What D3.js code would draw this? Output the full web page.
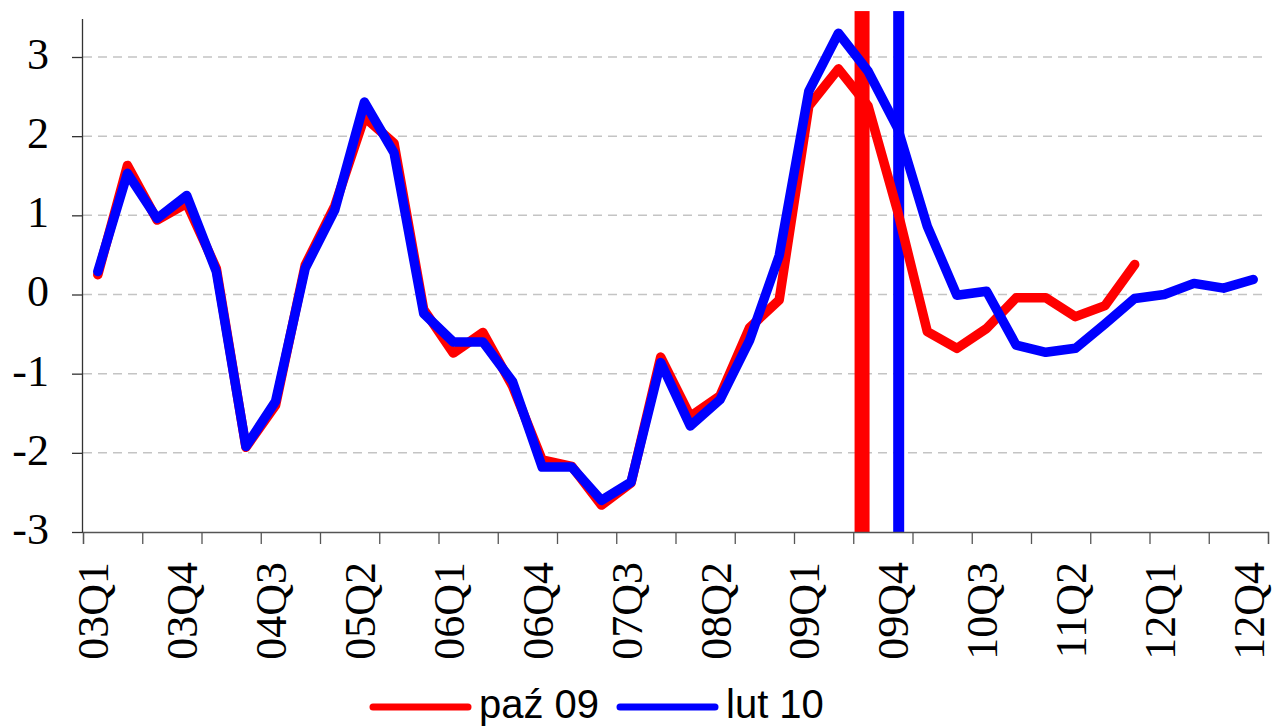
<!DOCTYPE html>
<html>
<head>
<meta charset="utf-8">
<script src="https://cdn.jsdelivr.net/npm/d3@7/dist/d3.min.js"></script>
<style>
  html, body { margin: 0; padding: 0; background: #fff; }
  svg { display: block; }
</style>
</head>
<body>
<svg id="chart" width="1272" height="726"></svg>
<script>
// quarters 03Q1 .. 12Q4
const years = ['03', '04', '05', '06', '07', '08', '09', '10', '11', '12'];
const quarters = ['Q1', 'Q2', 'Q3', 'Q4'];
const categories = years.flatMap(y => quarters.map(q => y + q));

const tickLabels = ['03Q1', '03Q4', '04Q3', '05Q2', '06Q1', '06Q4', '07Q3',
                    '08Q2', '09Q1', '09Q4', '10Q3', '11Q2', '12Q1', '12Q4'];
const yTicks = [-3, -2, -1, 0, 1, 2, 3];

// projection from Oct 2009 (ends 11Q4)
const paz09 = [0.25, 1.63, 0.94, 1.15, 0.33, -1.93, -1.40, 0.37, 1.12, 2.24,
               1.91, -0.19, -0.74, -0.48, -1.16, -2.09, -2.17, -2.66, -2.38, -0.79,
               -1.54, -1.28, -0.42, -0.07, 2.38, 2.85, 2.38, 1.05, -0.47, -0.68,
               -0.43, -0.04, -0.04, -0.28, -0.14, 0.38];
// projection from Feb 2010
const lut10 = [0.29, 1.53, 0.96, 1.25, 0.29, -1.92, -1.35, 0.33, 1.07, 2.43,
               1.79, -0.24, -0.60, -0.60, -1.10, -2.18, -2.18, -2.60, -2.37, -0.86,
               -1.66, -1.33, -0.58, 0.49, 2.57, 3.30, 2.82, 2.10, 0.86, -0.01,
               0.04, -0.64, -0.73, -0.68, -0.37, -0.05, 0.00, 0.14, 0.08, 0.19];

const seriesNames = ['paź 09', 'lut 10'];
const seriesColors = ['#ff0000', '#0000ff'];
// start of forecast for each projection
const markerQuarters = ['09Q3', '09Q4'];
const markerRange = [-3, 3.58];

const svg = d3.select('#chart');
const plotLeft = 83, plotRight = 1268, plotTop = 57, plotBottom = 532;

const x = d3.scaleBand().domain(categories).range([plotLeft, plotRight]).padding(0);
const xIdx = d3.scaleLinear().domain([0, categories.length]).range([plotLeft, plotRight]);
const y = d3.scaleLinear().domain([-3, 3]).range([plotBottom, plotTop]);
const cx = c => x(c) + x.bandwidth() / 2;

// gridlines
svg.append('g')
  .selectAll('line')
  .data(yTicks.filter(d => d > -3))
  .enter().append('line')
  .attr('x1', plotLeft).attr('x2', plotRight)
  .attr('y1', d => y(d)).attr('y2', d => y(d))
  .attr('stroke', '#c4c4c4')
  .attr('stroke-width', 1.5)
  .attr('stroke-dasharray', '9,6');

// forecast markers
const markerW = [15, 11], markerShift = [-6, 1];
svg.append('g')
  .selectAll('rect')
  .data(markerQuarters)
  .enter().append('rect')
  .attr('x', (d, i) => cx(d) + markerShift[i] - markerW[i] / 2)
  .attr('width', (d, i) => markerW[i])
  .attr('y', y(markerRange[1]))
  .attr('height', y(markerRange[0]) - y(markerRange[1]))
  .attr('fill', (d, i) => seriesColors[i]);

// y axis
const yAxis = svg.append('g')
  .attr('transform', `translate(${plotLeft},0)`)
  .call(d3.axisLeft(y).tickValues(yTicks).tickSize(11).tickPadding(23)
    .tickFormat(d => String(d)));
yAxis.select('.domain').attr('d', `M-0.5,${y(3.48)}V${plotBottom}`).attr('stroke', '#333').attr('stroke-width', 1.3);
yAxis.selectAll('.tick line').attr('stroke', '#333').attr('stroke-width', 1.3);
yAxis.selectAll('.tick text')
  .attr('font-family', '"Liberation Serif", "Times New Roman", serif')
  .attr('font-size', 44)
  .attr('fill', '#000')
  .attr('dy', '0.26em');

// x axis: tick marks every two quarters
const xAxis = svg.append('g')
  .attr('transform', `translate(0,${plotBottom})`)
  .call(d3.axisBottom(xIdx).tickValues(d3.range(0, categories.length + 1, 2))
    .tickSize(12).tickFormat(''));
xAxis.select('.domain').attr('stroke', '#555').attr('stroke-width', 1.3);
xAxis.selectAll('.tick line').attr('stroke', '#555').attr('stroke-width', 1.3);

svg.append('g')
  .selectAll('text')
  .data(tickLabels)
  .enter().append('text')
  .attr('transform', d => `translate(${cx(d)},${plotBottom + 30}) rotate(-90)`)
  .attr('text-anchor', 'end')
  .attr('dy', '0.24em')
  .attr('font-family', '"Liberation Serif", "Times New Roman", serif')
  .attr('font-size', 44)
  .text(d => d);

// lines
const line = d3.line()
  .x((d, i) => cx(categories[i]))
  .y(d => y(d));

[paz09, lut10].forEach((s, i) => {
  svg.append('path')
    .datum(s)
    .attr('d', line)
    .attr('fill', 'none')
    .attr('stroke', seriesColors[i])
    .attr('stroke-width', 9.5)
    .attr('stroke-linejoin', 'round')
    .attr('stroke-linecap', 'round');
});

// legend
const legend = svg.append('g').attr('transform', 'translate(373,707)');
const legendX = [0, 247];
seriesNames.forEach((name, i) => {
  const g = legend.append('g').attr('transform', `translate(${legendX[i]},0)`);
  g.append('line')
    .attr('x1', 0).attr('x2', 95)
    .attr('stroke', seriesColors[i])
    .attr('stroke-width', 7)
    .attr('stroke-linecap', 'round');
  g.append('text')
    .attr('x', 106).attr('y', 11)
    .attr('font-family', '"Liberation Sans", Arial, sans-serif')
    .attr('font-size', 40)
    .text(name);
});
</script>
</body>
</html>
